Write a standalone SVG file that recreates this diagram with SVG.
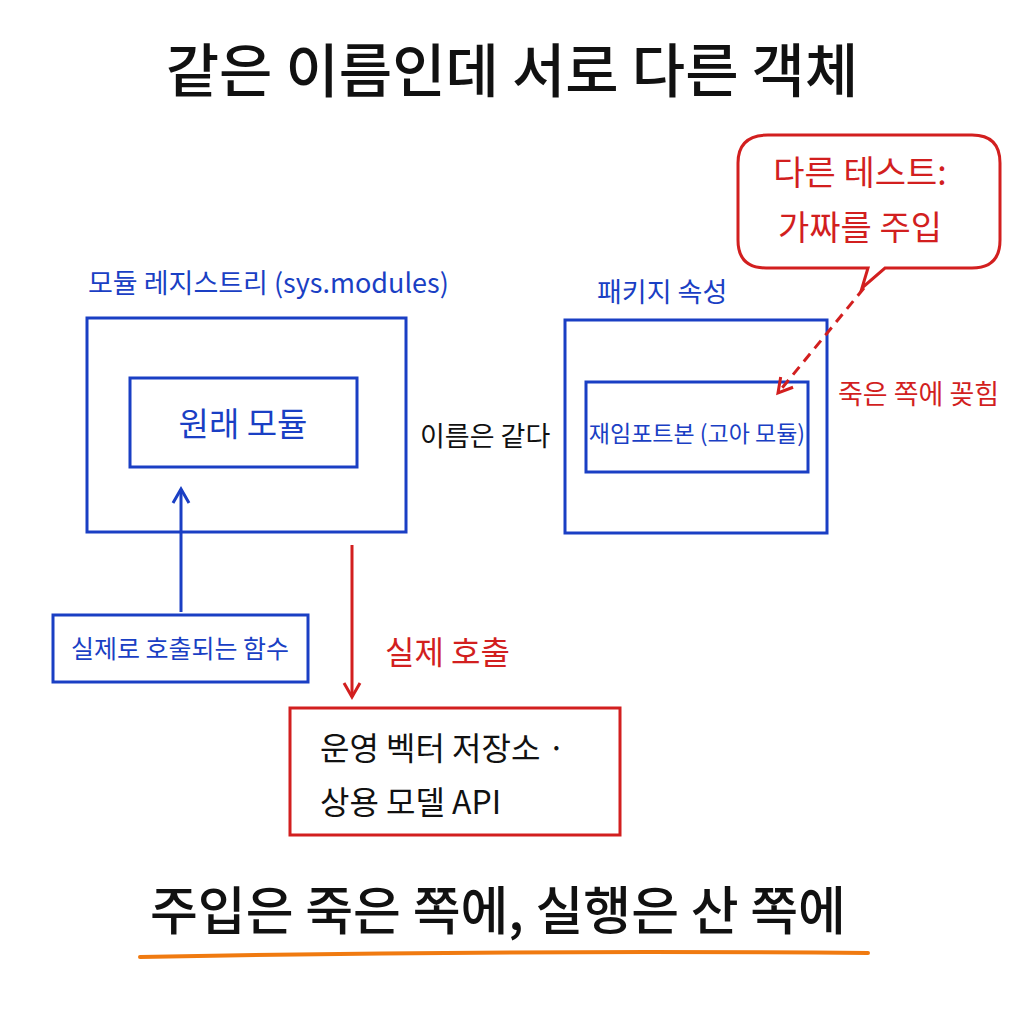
<svg xmlns="http://www.w3.org/2000/svg" width="1024" height="1024" viewBox="0 0 1024 1024">
<defs>
<style>
text{font-family:"Noto Sans CJK KR","Noto Sans",sans-serif}
.b{fill:none;stroke:#1a3fc4;stroke-width:3}
.r{fill:none;stroke:#d21f1f;stroke-width:3}
.tb{fill:#1a3fc4}.tr{fill:#d21f1f}.tk{fill:#111}
</style>
<marker id="ar" markerWidth="20" markerHeight="20" refX="16" refY="10" orient="auto" markerUnits="userSpaceOnUse"><path d="M2,2 L16,10 L2,18" fill="none" stroke="#d21f1f" stroke-width="3"/></marker>
<marker id="ab2" markerWidth="20" markerHeight="20" refX="16" refY="10" orient="auto" markerUnits="userSpaceOnUse"><path d="M2,2 L16,10 L2,18" fill="none" stroke="#1a3fc4" stroke-width="3"/></marker>
</defs>
<rect width="1024" height="1024" fill="#fff"/>
<text x="512" y="92" font-size="58" font-weight="500" text-anchor="middle" class="tk">같은 이름인데 서로 다른 객체</text>
<g id="callout">
<path d="M768,135 H972 Q1000,135 1000,163 V240 Q1000,268 972,268 H885 L862,288 L868,268 H766 Q738,268 738,240 V163 Q738,135 768,135 Z" class="r"/>
<text x="860" y="185" font-size="34" text-anchor="middle" class="tr">다른 테스트:</text>
<text x="860" y="240" font-size="34" text-anchor="middle" class="tr">가짜를 주입</text>
</g>
<g id="registry">
<text x="88" y="293" font-size="27" class="tb">모듈 레지스트리 (sys.modules)</text>
<rect x="87" y="318" width="319" height="214" class="b"/>
</g>
<g id="original">
<rect x="130" y="378" width="227" height="89" class="b"/>
<text x="243" y="436" font-size="33" text-anchor="middle" class="tb">원래 모듈</text>
</g>
<text x="420" y="446" font-size="27" class="tk">이름은 같다</text>
<g id="pkg">
<text x="597" y="302" font-size="27" class="tb">패키지 속성</text>
<rect x="565" y="320" width="262" height="213" class="b"/>
</g>
<g id="reimport">
<rect x="586" y="382" width="222" height="90" class="b"/>
<text x="697" y="442" font-size="23" text-anchor="middle" class="tb">재임포트본 (고아 모듈)</text>
</g>
<text x="838" y="404" font-size="27" class="tr">죽은 쪽에 꽂힘</text>
<g id="func">
<rect x="53" y="615" width="255" height="67" class="b"/>
<text x="180" y="658" font-size="25" text-anchor="middle" class="tb">실제로 호출되는 함수</text>
</g>
<text x="385" y="664" font-size="32" class="tr">실제 호출</text>
<g id="prod">
<rect x="290" y="708" width="330" height="127" class="r"/>
<text x="320" y="760" font-size="32" class="tk">운영 벡터 저장소 ·</text>
<text x="320" y="814" font-size="32" class="tk">상용 모델 API</text>
</g>
<g id="connectors">
<path d="M864,288 L778,393" class="r" stroke-dasharray="10,7" marker-end="url(#ar)"/>
<path d="M181,612 V489" class="b" marker-end="url(#ab2)"/>
<path d="M352,545 V697" class="r" marker-end="url(#ar)"/>
</g>
<text x="498" y="930" font-size="52" font-weight="500" text-anchor="middle" class="tk">주입은 죽은 쪽에, 실행은 산 쪽에</text>
<path d="M140,957 Q500,950 868,953" fill="none" stroke="#f07a10" stroke-width="4" stroke-linecap="round"/>
</svg>
